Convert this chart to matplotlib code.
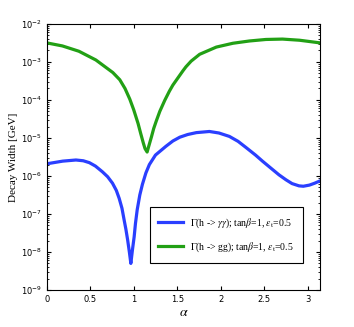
import numpy as np
import matplotlib
matplotlib.use("Agg")
import matplotlib.pyplot as plt

# ---------- datos (log10 del ancho) ----------
alpha_aa = [0.0, 0.183, 0.336, 0.42, 0.49, 0.56, 0.64, 0.70, 0.756, 0.80, 0.833, 0.865,
            0.89, 0.91, 0.93, 0.95, 0.967, 0.985, 1.005, 1.02, 1.04, 1.07, 1.10, 1.14,
            1.18, 1.25, 1.37, 1.45, 1.53, 1.62, 1.72, 1.87, 1.98, 2.10, 2.20, 2.29,
            2.40, 2.48, 2.58, 2.67, 2.75, 2.82, 2.90, 2.95, 3.02, 3.08, 3.1416]
log_aa = [-5.68, -5.61, -5.58, -5.60, -5.65, -5.74, -5.89, -6.02, -6.19, -6.38, -6.59, -6.85,
          -7.16, -7.40, -7.68, -8.00, -8.30, -7.95, -7.60, -7.25, -6.89, -6.50, -6.22, -5.92,
          -5.70, -5.45, -5.22, -5.08, -4.98, -4.91, -4.86, -4.83, -4.87, -4.96, -5.09, -5.25,
          -5.45, -5.61, -5.80, -5.97, -6.10, -6.20, -6.26, -6.27, -6.24, -6.19, -6.13]

alpha_gg = [0.0, 0.18, 0.37, 0.565, 0.76, 0.84, 0.90, 0.955, 1.0, 1.05, 1.08, 1.11,
            1.13, 1.154, 1.175, 1.204, 1.23, 1.26, 1.30, 1.357, 1.41, 1.45, 1.53, 1.567,
            1.60, 1.66, 1.758, 1.95, 2.14, 2.33, 2.52, 2.71, 2.905, 3.1416]
log_gg = [-2.50, -2.58, -2.72, -2.95, -3.28, -3.47, -3.70, -3.98, -4.26, -4.62, -4.88, -5.13,
          -5.28, -5.37, -5.20, -4.97, -4.75, -4.55, -4.30, -4.01, -3.77, -3.61, -3.35, -3.23,
          -3.13, -2.98, -2.80, -2.61, -2.51, -2.45, -2.41, -2.40, -2.43, -2.50]

etiqueta_aa = r"$\Gamma$(h -> $\gamma\gamma$); tan$\beta$=1, $\epsilon_{\rm t}$=0.5"
etiqueta_gg = r"$\Gamma$(h -> gg); tan$\beta$=1, $\epsilon_{\rm t}$=0.5"

plt.rcParams['mathtext.fontset'] = 'stix'

fig = plt.figure(figsize=(3.54, 3.27), dpi=100)
ax = fig.add_axes([0.132, 0.113, 0.772, 0.814])

ax.plot(alpha_aa, 10.0 ** np.array(log_aa), color='#2a3fff', lw=2.3, label=etiqueta_aa,
        solid_joinstyle='round')
ax.plot(alpha_gg, 10.0 ** np.array(log_gg), color='#22a015', lw=2.3, label=etiqueta_gg,
        solid_joinstyle='round')

ax.set_yscale('log')
ax.set_xlim(0, np.pi)
ax.set_ylim(1e-9, 1e-2)
ax.set_xticks([0, 0.5, 1, 1.5, 2, 2.5, 3])
ax.set_xticklabels(['0', '0.5', '1', '1.5', '2', '2.5', '3'])
ax.tick_params(which='both', direction='in', top=True, right=True, labelsize=6)
ax.tick_params(which='major', length=3)
ax.tick_params(which='minor', length=1.5)

ax.set_xlabel(r'$\alpha$', fontsize=10, labelpad=1)
ax.set_ylabel('Decay Width [GeV]', fontsize=8, family='Liberation Serif', labelpad=2)

leg = ax.legend(loc='lower right', prop={'family': 'Liberation Serif', 'size': 7},
                fancybox=False, edgecolor='black', framealpha=1, handlelength=2.5,
                borderpad=0.9, labelspacing=1.1, bbox_to_anchor=(0.955, 0.085))
leg.get_frame().set_linewidth(0.8)

fig.savefig('out.png', dpi=100)
